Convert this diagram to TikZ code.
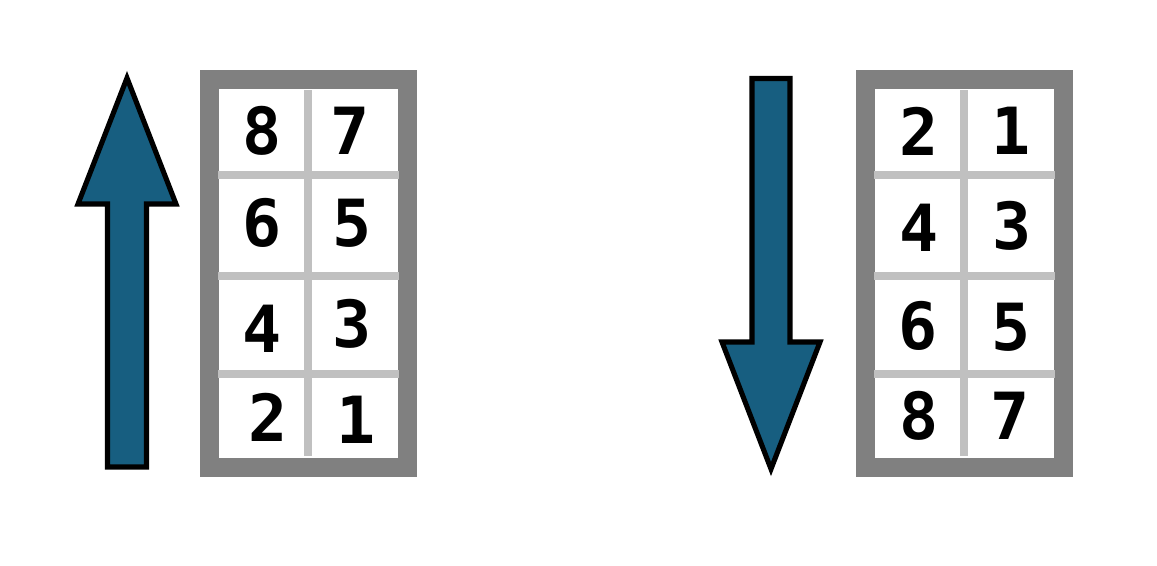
\documentclass[tikz,border=0pt]{standalone}
\usepackage{fontspec}
\newfontfamily\digitfont{DejaVu Sans Mono}[BoldFont={DejaVu Sans Mono Bold}]
\definecolor{arrowblue}{HTML}{175E80}
\definecolor{framegray}{HTML}{808080}
\definecolor{splitgray}{HTML}{C0C0C0}
\tikzset{
  frame/.style={draw=framegray, line width=10.8pt, fill=white},
  split/.style={draw=splitgray, line width=4pt},
  bigarrow/.style={draw=black, fill=arrowblue, line width=2.9pt, line join=miter},
  digit/.style={inner sep=0pt, font=\digitfont\bfseries\fontsize{37}{40}\selectfont}
}
\begin{document}
\begin{tikzpicture}[x=0.02cm, y=-0.02cm]
\useasboundingbox (0,0) rectangle (1157,565);
% up arrow
\draw[bigarrow] (107.5,467) -- (107.5,204) -- (78,204) -- (127,78) -- (176,204) -- (146.5,204) -- (146.5,467) -- cycle;
% left box
\draw[frame] (209.5,79.5) rectangle (407.5,467.5);
\draw[split] (308,90) -- (308,456);
\draw[split] (218,175) -- (399,175);
\draw[split] (218,276) -- (399,276);
\draw[split] (218,374) -- (399,374);
\node[digit] (l8) at (262,131) {8};
\node[digit] (l7) at (350,131) {7};
\node[digit] (l6) at (262,223) {6};
\node[digit] (l5) at (352,223) {5};
\node[digit] (l4) at (262,329) {4};
\node[digit] (l3) at (352,324) {3};
\node[digit] (l2) at (268,417) {2};
\node[digit] (l1) at (356,420) {1};
% down arrow
\draw[bigarrow] (752,78.5) -- (790,78.5) -- (790,342) -- (820,342) -- (771,469) -- (722,342) -- (752,342) -- cycle;
% right box
\draw[frame] (865.5,79.5) rectangle (1063.5,467.5);
\draw[split] (964,90) -- (964,456);
\draw[split] (874,175) -- (1055,175);
\draw[split] (874,276) -- (1055,276);
\draw[split] (874,374) -- (1055,374);
\node[digit] (r2) at (919,131) {2};
\node[digit] (r1) at (1011,131) {1};
\node[digit] (r4) at (919,228) {4};
\node[digit] (r3) at (1012,226) {3};
\node[digit] (r6) at (918,326) {6};
\node[digit] (r5) at (1011,327) {5};
\node[digit] (r8) at (919,416) {8};
\node[digit] (r7) at (1010,416) {7};
\end{tikzpicture}
\end{document}
